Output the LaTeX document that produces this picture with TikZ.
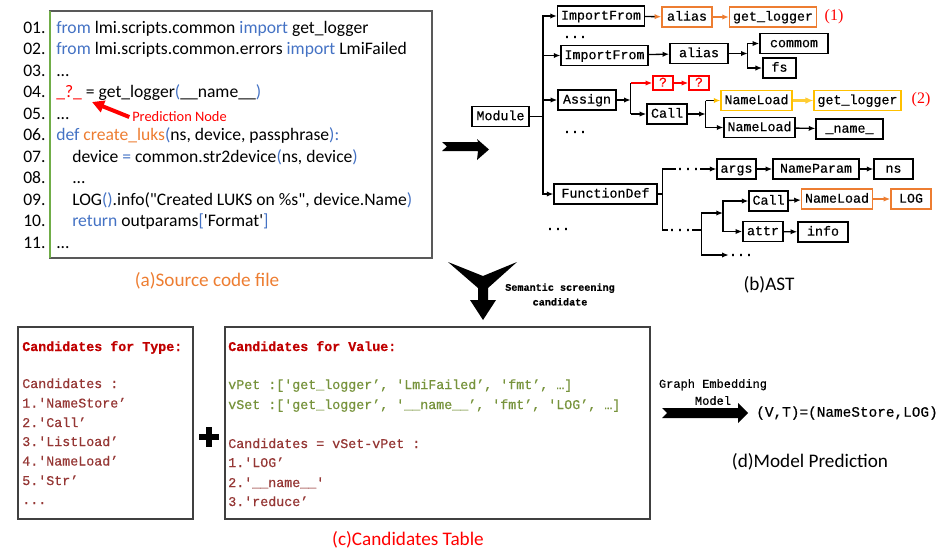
\documentclass[tikz,border=0pt]{standalone}
\usepackage{fontspec}
\setmainfont{Carlito}
\newfontfamily\astfont[FakeBold=0.5]{Liberation Mono}
\newfontfamily\numfont{Liberation Serif}
\usetikzlibrary{arrows.meta}

\definecolor{kwblue}{RGB}{68,114,196}
\definecolor{fnorange}{RGB}{237,125,49}
\definecolor{bargreen}{RGB}{112,173,71}
\definecolor{hlyellow}{RGB}{255,192,0}
\definecolor{titlered}{RGB}{192,0,0}
\definecolor{candred}{RGB}{149,55,53}
\definecolor{setgreen}{RGB}{119,147,60}

\newcommand{\kw}[1]{\textcolor{kwblue}{#1}}
\newcommand{\sq}{\textquotesingle}

\tikzset{
  codetext/.style={anchor=base west, inner sep=0, font=\fontsize{13.2}{16}\selectfont},
  caption/.style={font=\fontsize{14.4}{17}\selectfont},
  astbox/.style={draw, line width=1.1pt, font=\astfont\fontsize{10}{12}\selectfont,
    inner xsep=2.5pt, inner ysep=0pt, minimum height=15pt, text height=7.5pt, text depth=2pt},
  astdots/.style={inner sep=0, font=\astfont\bfseries\fontsize{10}{12}\selectfont},
  candtext/.style={anchor=base west, inner sep=0, font=\astfont\fontsize{10}{12}\selectfont},
  tree/.style={line width=1pt},
  tip/.style={tree, -{Latex[length=5pt,width=4pt]}},
  otip/.style={tree, -{Latex[length=5pt,width=4pt,color=fnorange]}},
  oarr/.style={tree, fnorange, -{Latex[length=5pt,width=4pt]}},
  rarr/.style={tree, red, -{Latex[length=5pt,width=4pt]}},
  yarr/.style={line width=1.6pt, hlyellow!80, -{Latex[length=6pt,width=5pt]}},
  panel/.style={draw=black!75, line width=1pt}
}

\begin{document}
\begin{tikzpicture}[x=0.75pt, y=-0.75pt]
\useasboundingbox (0,0) rectangle (941,550);

% source code panel
\draw[black!65, line width=0.8pt] (50,11) rectangle (432,258);
\draw[bargreen, line width=2.2pt] (50,11) -- (50,258);
\foreach \n [count=\i] in {01,02,03,04,05,06,07,08,09,10,11}
  \node[codetext] (n\i) at ({23},{33+21.5*(\i-1)}) {\n.};
\node[codetext] (c1) at (56,33) {\kw{from} lmi.scripts.common \kw{import} get\_logger};
\node[codetext] (c2) at (56,54.5) {\kw{from} lmi.scripts.common.errors \kw{import} LmiFailed};
\node[codetext] (c3) at (56,76) {...};
\node[codetext] (c4) at (56,97.5) {\textcolor{red}{\_?\_} = get\_logger\kw{(}\_\_name\_\_\kw{)}};
\node[codetext] (c5) at (56,119) {...};
\node[codetext] (c6) at (56,140.5) {\kw{def} \textcolor{fnorange}{create\_luks}\kw{(}ns, device, passphrase\kw{):}};
\node[codetext] (c7) at (72,162) {device \kw{=} common.str2device\kw{(}ns, device\kw{)}};
\node[codetext] (c8) at (72,183.5) {...};
\node[codetext] (c9) at (72,205) {LOG\kw{()}.info(\textquotedbl Created LUKS on \%s\textquotedbl, device.Name\kw{)}};
\node[codetext] (c10) at (72,226.5) {\kw{return} outparams\kw{[}\sq Format\sq\kw{]}};
\node[codetext] (c11) at (56,248) {...};

\node[anchor=west, inner sep=0, text=red, font=\fontsize{10.8}{13}\selectfont] (pred) at (132,117) {Prediction Node};
\coordinate (predtip) at (92,102);
\draw[red, line width=3pt, -{Triangle[length=9pt,width=9pt]}] ([xshift=-2pt]pred.west) -- (predtip);
\node[caption, text=fnorange] (capa) at (207,281) {(a)Source code file};

% code -> AST
\fill (442,142) -- (478,142) -- (477,139) -- (489,149.5) -- (477,160) -- (478,151)
  -- (442,151) -- (447,146.5) -- cycle;

% AST nodes
\node[astbox, minimum width=43pt] (module) at (500.5,116.5) {Module};
\node[astbox, minimum width=64.5pt] (imp1) at (601,16) {ImportFrom};
\node[astbox, draw=fnorange, minimum width=37.5pt] (alias1) at (687,17) {alias};
\node[astbox, draw=fnorange, minimum width=64.5pt] (gl1) at (773,17) {get\_logger};
\node[text=red, font=\numfont\fontsize{12}{14}\selectfont] (lab1) at (834,17) {(1)};
\node[astdots] (d1) at (575,37) {...};
\node[astbox, minimum width=64pt] (imp2) at (604.5,55.5) {ImportFrom};
\node[astbox, minimum width=43.5pt] (alias2) at (699,53.5) {alias};
\node[astbox, minimum width=51pt] (commom) at (794,43.5) {commom};
\node[astbox, minimum width=25pt] (fs) at (779.5,68) {fs};
\node[astbox, draw=red, text=red, minimum width=15pt, minimum height=10.5pt, text height=6.5pt, text depth=1pt] (q1) at (663,83) {?};
\node[astbox, draw=red, text=red, minimum width=15pt, minimum height=10.5pt, text height=6.5pt, text depth=1pt] (q2) at (699,83) {?};
\node[astbox, minimum width=43.5pt] (assign) at (587,100) {Assign};
\node[astbox, minimum width=30pt] (call1) at (667,114) {Call};
\node[astbox, draw=hlyellow, minimum width=52pt] (nl1) at (756.5,100.5) {NameLoad};
\node[astbox, draw=hlyellow, minimum width=64pt] (gl2) at (857.5,100.5) {get\_logger};
\node[text=red, font=\numfont\fontsize{12}{14}\selectfont] (lab2) at (921,100) {(2)};
\node[astbox, minimum width=52pt] (nl2) at (759.5,127.5) {NameLoad};
\node[astbox, minimum width=50pt] (name) at (849.5,129) {\_name\_};
\node[astdots] (d2) at (575,132) {...};
\node[astbox, minimum width=77pt] (funcdef) at (605.5,194) {FunctionDef};
\node[astdots] (d3) at (558,229) {...};
\node[astdots] (d4) at (688,169) {...};
\node[astbox, minimum width=29pt] (args) at (736.5,169) {args};
\node[astbox, minimum width=64.5pt] (nparam) at (816,169) {NameParam};
\node[astbox, minimum width=29pt] (ns) at (893.5,169) {ns};
\node[astdots] (d5) at (680,230) {...};
\node[astbox, minimum width=29pt] (call2) at (768.5,201) {Call};
\node[astbox, draw=fnorange, minimum width=52.5pt] (nl3) at (837,199) {NameLoad};
\node[astbox, draw=fnorange, minimum width=30pt] (log) at (911,199) {LOG};
\node[astbox, minimum width=30pt] (attr) at (763,231.5) {attr};
\node[astbox, minimum width=37.5pt] (info) at (823,232) {info};
\node[astdots] (d6) at (741,255) {...};
\node[caption] (capb) at (769,285) {(b)AST};

% AST edges
\foreach \c in {imp1,imp2,assign,funcdef}
  \draw[tip] (module.east) -- ++(13,0) |- (\c.west);
\draw[otip] (imp1) -- (alias1);
\draw[oarr] (alias1) -- (gl1);
\draw[tip] (imp2) -- (alias2);
\draw[tip] (alias2.east) -- ++(19,0) coordinate (j1);
\draw[tip] (j1) |- (commom.west);
\draw[tip] (j1) |- (fs.west);
\draw[tip] (assign.east) -- ++(14,0) coordinate (j2);
\draw[tree] (j2 |- q1.west) -- (j2 |- call1.west);
\draw[rarr] (j2 |- q1.west) -- (q1.west);
\draw[tip] (j2 |- call1.west) -- (call1.west);
\draw[rarr] (q1) -- (q2);
\draw[tip] (call1.east) -- ++(18,0) coordinate (j3);
\draw[tree] (j3 |- nl1.west) -- (j3 |- nl2.west);
\draw[tree, -{Latex[length=5pt,width=4pt,color=hlyellow]}] (j3 |- nl1.west) -- (nl1.west);
\draw[tip] (j3 |- nl2.west) -- (nl2.west);
\draw[yarr] (nl1) -- (gl2);
\draw[tip] (nl2) -- (name);
\draw[tree] (funcdef.east) -- ++(5,0) coordinate (j4);
\draw[tree] (d4.west) -| (j4) |- (d5.west);
\draw[tip] (d4.east) -- (args.west);
\draw[tip] (args) -- (nparam);
\draw[tip] (nparam) -- (ns);
\coordinate (j6) at (723,213);
\draw[tree] (d5.east) -- ++(9,0) coordinate (j5);
\draw[tree] (j5 |- j6) -- (j5 |- d6.west);
\draw[tip] (j5 |- j6) -- (j6);
\draw[tip] (j5 |- d6.west) -- (d6.west);
\draw[tip] (j6) |- (call2.west);
\draw[tip] (j6) |- (attr.west);
\draw[tip] (call2) -- (nl3);
\draw[oarr] (nl3) -- (log);
\draw[tip] (attr) -- (info);

% screening arrow
\fill (448,262) -- (483,276) -- (517,262) -- (488,288) -- (488,300) -- (496,300)
  -- (483,320) -- (470,300) -- (478,300) -- (478,288) -- cycle;
\node[align=center, font=\astfont\bfseries\fontsize{7.6}{11}\selectfont] (screen) at (560,294.5) {Semantic screening\\candidate};

% candidates
\draw[panel] (18,327) rectangle (193,519);
\draw[panel] (225,327) rectangle (650,519);
\node[candtext, text=titlered, font=\astfont\bfseries\fontsize{10}{12}\selectfont] (tt) at (22,351) {Candidates for Type:};
\node[candtext, text=candred] (t0) at (22,388) {Candidates :};
\node[candtext, text=candred] (t1) at (22,407.5) {1.\sq NameStore’};
\node[candtext, text=candred] (t2) at (22,427) {2.\sq Call’};
\node[candtext, text=candred] (t3) at (22,446) {3.\sq ListLoad’};
\node[candtext, text=candred] (t4) at (22,465.5) {4.\sq NameLoad’};
\node[candtext, text=candred] (t5) at (22,485) {5.\sq Str’};
\node[candtext, text=candred] (t6) at (22,504) {...};
\draw[line width=5pt] (199,437) -- (219,437);
\draw[line width=5pt] (209,427) -- (209,447);
\node[candtext, text=titlered, font=\astfont\bfseries\fontsize{10}{12}\selectfont] (vt) at (228,351) {Candidates for Value:};
\node[candtext, text=setgreen] (vpet) at (228,389) {vPet :[\sq get\_logger’, \sq LmiFailed’, \sq fmt’, …]};
\node[candtext, text=setgreen] (vset) at (228,409) {vSet :[\sq get\_logger’, \sq\_\_name\_\_’, \sq fmt’, \sq LOG’, …]};
\node[candtext, text=candred] (v0) at (228,448) {Candidates = vSet-vPet :};
\node[candtext, text=candred] (v1) at (228,467) {1.\sq LOG’};
\node[candtext, text=candred] (v2) at (228,487) {2.\sq\_\_name\_\_\sq};
\node[candtext, text=candred] (v3) at (228,506) {3.\sq reduce’};
\node[caption, text=red] (capc) at (408,540) {(c)Candidates Table};

% prediction
\fill (662,408) -- (738,408) -- (738,403) -- (748,413) -- (738,423) -- (738,418)
  -- (662,418) -- (667,413) -- cycle;
\node[align=center, inner sep=0, font=\astfont\fontsize{9}{12.75}\selectfont] (gem) at (713,392) {Graph Embedding\\Model};
\node[anchor=west, inner sep=0, font=\astfont\fontsize{10.8}{13}\selectfont] (pred2) at (756,413) {(V,T)=(NameStore,LOG)};
\node[caption] (capd) at (810,462) {(d)Model Prediction};
\end{tikzpicture}
\end{document}
